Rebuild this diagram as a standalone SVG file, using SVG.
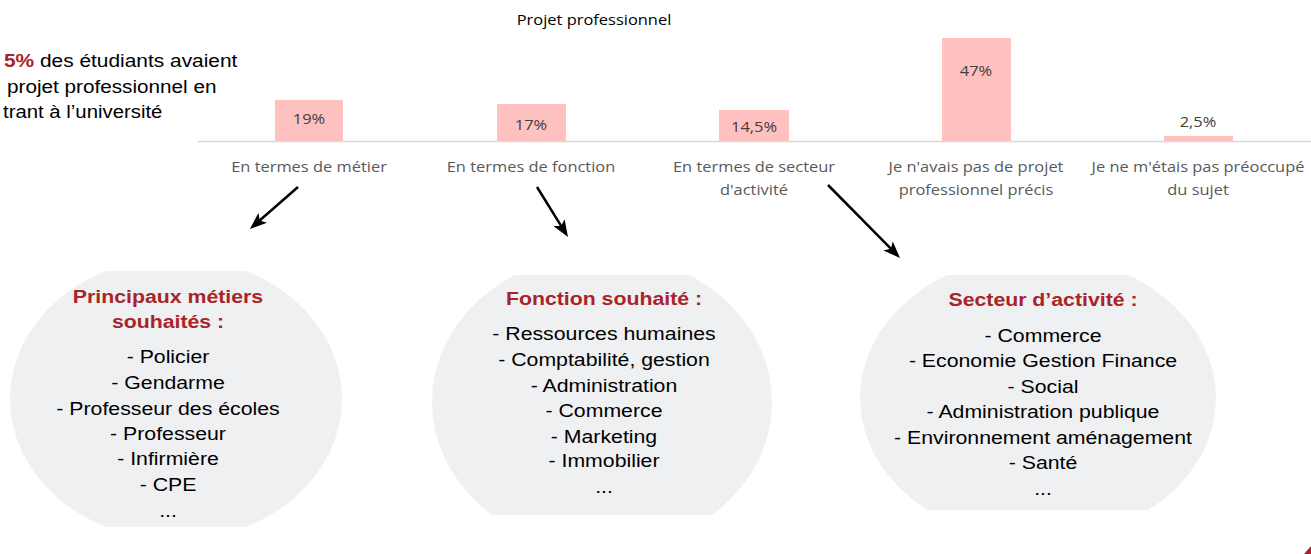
<svg xmlns="http://www.w3.org/2000/svg" width="1311" height="554" viewBox="0 0 1311 554">
<style>
.ch{font-family:'Open Sans','DejaVu Sans',sans-serif;font-size:14.3px;text-anchor:middle}
.lbl{fill:#595959}
.val{fill:#404040}
.ttl{font-family:'Liberation Sans',Arial,sans-serif;font-weight:bold;font-size:18.5px;fill:#A82428;text-anchor:middle}
.itm{font-family:'Liberation Sans',Arial,sans-serif;font-size:18.5px;fill:#000;text-anchor:middle}
.intro{font-family:'Liberation Sans',Arial,sans-serif;font-size:18.5px;fill:#000}
.bar{fill:#FFC0C0}
.blob{fill:#EFF0F2}
.arr{stroke:#000;stroke-width:2.5;fill:none;marker-end:url(#ah)}
</style>
<defs>
<marker id="ah" markerUnits="userSpaceOnUse" markerWidth="17" markerHeight="13" refX="6" refY="6.5" orient="auto">
<path d="M0,0 L17,6.5 L0,13 L4,6.5 Z" fill="#000"/>
</marker>
<clipPath id="c1"><rect x="0" y="271" width="360" height="256"/></clipPath>
<clipPath id="c2"><rect x="420" y="275" width="370" height="240"/></clipPath>
<clipPath id="c3"><rect x="850" y="275" width="380" height="235"/></clipPath>
</defs>

<g id="intro">
<g transform="translate(4 0) scale(1.13 1)">
<text class="intro" x="0" y="67"><tspan font-weight="bold" fill="#A82428">5%</tspan> des étudiants avaient</text>
</g>
<g transform="translate(7 0) scale(1.12 1)">
<text class="intro" x="0" y="93">projet professionnel en</text>
</g>
<g transform="translate(3 0) scale(1.1 1)">
<text class="intro" x="0" y="118">trant à l’université</text>
</g>
</g>

<g id="chart">
<g transform="translate(594 0) scale(1.15 1)"><text class="ch" x="0" y="25" fill="#000">Projet professionnel</text></g>
<line x1="198" y1="141.5" x2="1311" y2="141.5" stroke="#D9D9D9" stroke-width="1.5"/>

<g id="cat-metier">
<rect class="bar" x="275" y="100" width="68" height="41"/>
<g transform="translate(309 0) scale(1.15 1)">
<text class="ch val" x="0" y="124">19%</text>
<text class="ch lbl" x="0" y="172">En termes de métier</text>
</g>
</g>
<g id="cat-fonction">
<rect class="bar" x="497" y="104" width="69" height="37"/>
<g transform="translate(531 0) scale(1.15 1)">
<text class="ch val" x="0" y="130">17%</text>
<text class="ch lbl" x="0" y="172">En termes de fonction</text>
</g>
</g>
<g id="cat-secteur">
<rect class="bar" x="719" y="110" width="70" height="31"/>
<g transform="translate(754 0) scale(1.15 1)">
<text class="ch val" x="0" y="132">14,5%</text>
<text class="ch lbl" x="0" y="172">En termes de secteur</text>
<text class="ch lbl" x="0" y="195">d'activité</text>
</g>
</g>
<g id="cat-aucun">
<rect class="bar" x="942" y="38" width="69" height="103"/>
<g transform="translate(976 0) scale(1.15 1)">
<text class="ch val" x="0" y="76">47%</text>
<text class="ch lbl" x="0" y="172">Je n'avais pas de projet</text>
<text class="ch lbl" x="0" y="195">professionnel précis</text>
</g>
</g>
<g id="cat-sujet">
<rect class="bar" x="1164" y="136" width="69" height="5"/>
<g transform="translate(1198 0) scale(1.15 1)">
<text class="ch val" x="0" y="127">2,5%</text>
<text class="ch lbl" x="0" y="172">Je ne m'étais pas préoccupé</text>
<text class="ch lbl" x="0" y="195">du sujet</text>
</g>
</g>
</g>

<g id="connectors">
<line class="arr" x1="298" y1="187" x2="258.2" y2="221.8"/>
<line class="arr" x1="537" y1="187" x2="562.2" y2="227.7"/>
<line class="arr" x1="828" y1="185" x2="892.3" y2="250.2"/>
</g>

<g id="metiers">
<ellipse class="blob" cx="176" cy="399" rx="166" ry="141" clip-path="url(#c1)"/>
<g transform="translate(168 0) scale(1.15 1)">
<text class="ttl" x="0" y="303">Principaux métiers</text>
<text class="ttl" x="0" y="328">souhaités :</text>
<text class="itm" x="0" y="363">- Policier</text>
<text class="itm" x="0" y="389">- Gendarme</text>
<text class="itm" x="0" y="415">- Professeur des écoles</text>
<text class="itm" x="0" y="440">- Professeur</text>
<text class="itm" x="0" y="465">- Infirmière</text>
<text class="itm" x="0" y="491">- CPE</text>
<text class="itm" x="0" y="517">...</text>
</g>
</g>

<g id="fonction">
<ellipse class="blob" cx="602" cy="402" rx="170" ry="148" clip-path="url(#c2)"/>
<g transform="translate(604 0) scale(1.15 1)">
<text class="ttl" x="0" y="305">Fonction souhaité :</text>
<text class="itm" x="0" y="340">- Ressources humaines</text>
<text class="itm" x="0" y="366">- Comptabilité, gestion</text>
<text class="itm" x="0" y="392">- Administration</text>
<text class="itm" x="0" y="417">- Commerce</text>
<text class="itm" x="0" y="443">- Marketing</text>
<text class="itm" x="0" y="467">- Immobilier</text>
<text class="itm" x="0" y="493">...</text>
</g>
</g>

<g id="secteur">
<ellipse class="blob" cx="1038" cy="398" rx="178" ry="143" clip-path="url(#c3)"/>
<g transform="translate(1043 0) scale(1.15 1)">
<text class="ttl" x="0" y="306">Secteur d’activité :</text>
<text class="itm" x="0" y="342">- Commerce</text>
<text class="itm" x="0" y="367">- Economie Gestion Finance</text>
<text class="itm" x="0" y="393">- Social</text>
<text class="itm" x="0" y="418">- Administration publique</text>
<text class="itm" x="0" y="444">- Environnement aménagement</text>
<text class="itm" x="0" y="469">- Santé</text>
<text class="itm" x="0" y="495">...</text>
</g>
</g>

<polygon points="1311,546 1311,554 1304,554" fill="#A82428"/>
</svg>
